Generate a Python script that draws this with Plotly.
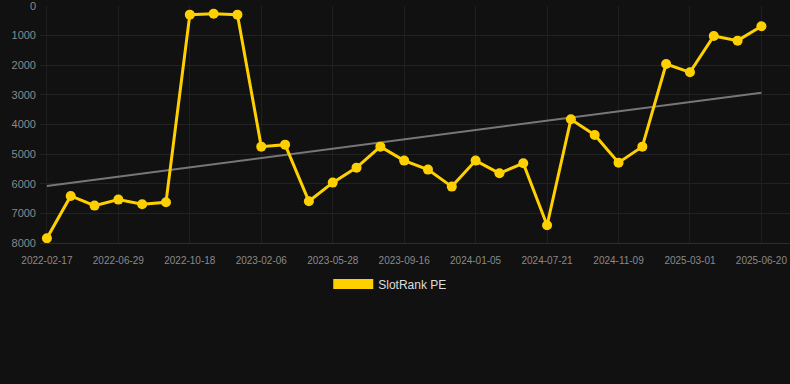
import numpy as np
import plotly.graph_objects as go

dates = [
    "2022-02-17", "2022-03-31", "2022-05-15", "2022-06-29", "2022-08-05", "2022-09-11",
    "2022-10-18", "2022-11-24", "2022-12-31", "2023-02-06", "2023-03-15", "2023-04-21",
    "2023-05-28", "2023-07-04", "2023-08-10", "2023-09-16", "2023-10-23", "2023-11-29",
    "2024-01-05", "2024-03-10", "2024-05-16", "2024-07-21", "2024-08-27", "2024-10-03",
    "2024-11-09", "2024-12-16", "2025-01-22", "2025-03-01", "2025-04-07", "2025-05-14",
    "2025-06-20",
]
rank = [
    7840, 6412, 6738, 6535, 6693, 6625,
    292, 259, 292, 4747, 4680, 6592,
    5962, 5456, 4747, 5219, 5523, 6097,
    5219, 5647, 5309, 7402, 3825, 4353,
    5287, 4747, 1957, 2238, 1012, 1170,
    686,
]
tick_dates = dates[::3]
y_ticks = [0, 1000, 2000, 3000, 4000, 5000, 6000, 7000, 8000]

idx = np.arange(len(rank))
slope, intercept = np.polyfit(idx, rank, 1)
trend = [slope * idx[0] + intercept, slope * idx[-1] + intercept]

LINE = "#FFD000"

fig = go.Figure()
fig.add_trace(go.Scatter(
    x=[dates[0], dates[-1]], y=trend, mode="lines",
    line=dict(color="#777777", width=2), showlegend=False, hoverinfo="skip",
))
fig.add_trace(go.Scatter(
    x=dates, y=rank, mode="lines+markers",
    line=dict(color=LINE, width=3), marker=dict(color=LINE, size=10),
    showlegend=False, name="SlotRank PE",
))
fig.add_trace(go.Scatter(
    x=[None], y=[None], mode="lines", name="SlotRank PE",
    line=dict(color=LINE, width=10), showlegend=True,
))

fig.update_layout(
    width=790, height=384,
    paper_bgcolor="#111111", plot_bgcolor="#111111",
    margin=dict(l=40, r=0, t=6, b=141),
    font=dict(family="Arial, Liberation Sans, sans-serif", color="#8a8a8a"),
    legend=dict(
        orientation="h", x=0.467, xanchor="center", y=-0.173, yanchor="middle",
        font=dict(size=12, color="#dddddd"), itemwidth=40,
        bgcolor="rgba(0,0,0,0)",
    ),
    xaxis=dict(
        type="category", categoryorder="array", categoryarray=dates,
        range=[-0.29, 31.2], tickvals=tick_dates, ticktext=tick_dates,
        showgrid=True, gridcolor="#1f1f1f", gridwidth=1,
        showline=True, linecolor="#2c2c2c", linewidth=1,
        tickfont=dict(size=10, color="#8a8a8a"), ticks="", zeroline=False,
        ticklabelstandoff=8, ticklabeloverflow="allow",
    ),
    yaxis=dict(
        range=[8000, 0], tickvals=y_ticks,
        showgrid=True, gridcolor="#222222", gridwidth=1, zeroline=False,
        tickfont=dict(size=11, color="#8a8a8a"), ticks="",
        ticklabeloverflow="allow", ticklabelstandoff=3,
    ),
)

fig.write_html(
    "out.html",
    config={"displayModeBar": False},
    post_script="document.body.style.margin='0';document.body.style.background='#111111';",
)
